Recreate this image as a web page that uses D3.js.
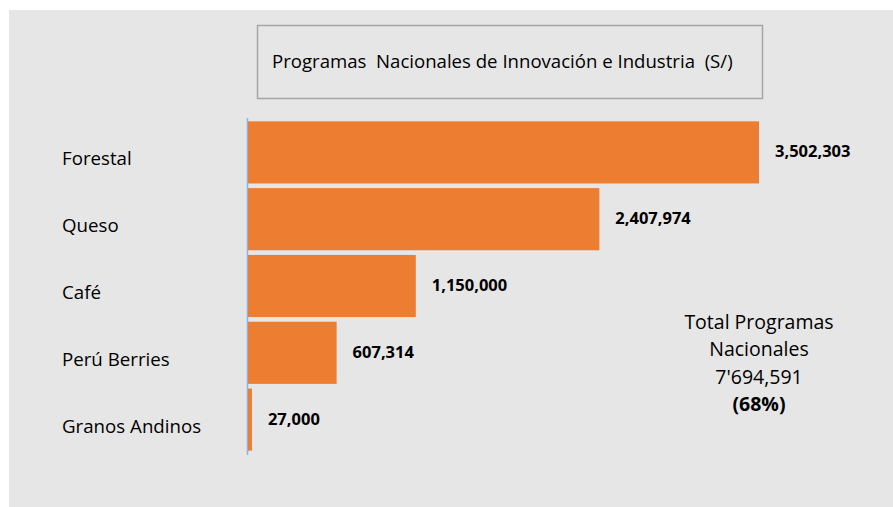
<!DOCTYPE html>
<html><head><meta charset="utf-8">
<script src="https://cdn.jsdelivr.net/npm/d3@7"></script>
<style>
html,body{margin:0;padding:0;background:#fff;}
svg{display:block;}
text{font-family:"Open Sans",sans-serif;fill:#000;}
</style></head>
<body>
<script>
const categories = ["Forestal", "Queso", "Café", "Perú Berries", "Granos Andinos"];
const values = [3502303, 2407974, 1150000, 607314, 27000];
const valueLabels = ["3,502,303", "2,407,974", "1,150,000", "607,314", "27,000"];
const title = "Programas  Nacionales de Innovación e Industria  (S/)";
const totalLines = ["Total Programas", "Nacionales", "7'694,591", "(68%)"];

const W = 893, H = 507;
const svg = d3.select("body").append("svg").attr("width", W).attr("height", H);

svg.append("rect").attr("x", 9).attr("y", 10).attr("width", W - 9).attr("height", H - 10).attr("fill", "#e6e6e6");

// title box
svg.append("rect").attr("x", 257.5).attr("y", 25.5).attr("width", 505).attr("height", 73)
  .attr("fill", "none").attr("stroke", "#a6a6a6").attr("stroke-width", 1.5);
svg.append("text").attr("x", 272).attr("y", 68).attr("font-size", 18.6)
  .style("white-space", "pre").attr("xml:space", "preserve").text(title);

const y = d3.scaleBand().domain(categories).range([119, 453]).paddingInner(0.07).paddingOuter(0.035);
const x = d3.scaleLinear().domain([0, d3.max(values)]).range([248, 759]);

// axis line
svg.append("line").attr("x1", 247.5).attr("x2", 247.5).attr("y1", 118).attr("y2", 455)
  .attr("stroke", "#8db3e2").attr("stroke-width", 1.5);

svg.selectAll("rect.bar").data(values).enter().append("rect").attr("class", "bar")
  .attr("x", x(0)).attr("y", (d, i) => y(categories[i]))
  .attr("width", d => x(d) - x(0)).attr("height", y.bandwidth())
  .attr("fill", "#ed7d31");

svg.selectAll("text.cat").data(categories).enter().append("text").attr("class", "cat")
  .attr("x", 62).attr("y", d => y(d) + y.bandwidth() / 2 + 13)
  .attr("font-size", 18.7).text(d => d);

svg.selectAll("text.val").data(values).enter().append("text").attr("class", "val")
  .attr("x", d => x(d) + 16).attr("y", (d, i) => y(categories[i]) + y.bandwidth() / 2 + 5)
  .attr("font-size", 16.5).attr("font-weight", "bold").text((d, i) => valueLabels[i]);

svg.selectAll("text.tot").data(totalLines).enter().append("text").attr("class", "tot")
  .attr("x", 759).attr("y", (d, i) => 329 + i * 27.3).attr("text-anchor", "middle")
  .attr("font-size", 19.5).attr("font-weight", (d, i) => i === 3 ? "bold" : "normal").text(d => d);
</script>
</body></html>
